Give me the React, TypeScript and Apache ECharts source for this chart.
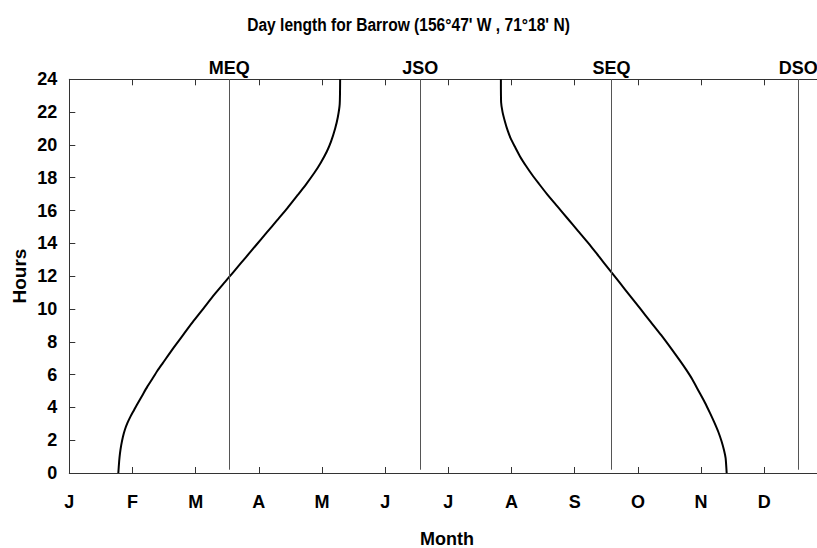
import React, { useEffect, useRef } from "react";
import * as echarts from "echarts";

// ---- data ----
const monthLabels = ["J", "F", "M", "A", "M", "J", "J", "A", "S", "O", "N", "D"];
const yearDays = 365;

// rising branch (end of polar night -> start of midnight sun)
const riseDays = [23.6, 24.0, 24.4, 25.0, 25.8, 26.8, 28.0, 29.5, 31.0, 32.5, 35.0, 37.5, 40.0, 42.5, 45, 50, 55, 60, 65, 70, 75, 77, 80, 85, 90, 95, 100, 105, 110, 114, 118, 121, 124, 126, 128, 129.3, 130.2, 130.4];
const riseHours = [0, 0.7, 1.2, 1.7, 2.2, 2.65, 3.05, 3.45, 3.8, 4.15, 4.7, 5.25, 5.75, 6.25, 6.7, 7.6, 8.45, 9.3, 10.1, 10.9, 11.65, 11.95, 12.4, 13.15, 13.9, 14.65, 15.4, 16.15, 16.95, 17.6, 18.3, 18.9, 19.6, 20.2, 21.0, 21.7, 22.5, 24];

// falling branch (end of midnight sun -> start of polar night)
const fallDays = [207.8, 207.9, 208.6, 209.8, 211.0, 212.5, 214.5, 217, 220, 223, 226, 230, 235, 240, 245, 250, 255, 260, 265, 270, 275, 280, 285, 290, 294, 297, 300, 303, 306, 308.5, 310.5, 312.5, 314, 315.2, 316.0, 316.5];
const fallHours = [24, 22.6, 22.0, 21.4, 20.9, 20.4, 19.9, 19.3, 18.7, 18.15, 17.65, 17.0, 16.25, 15.5, 14.75, 14.0, 13.2, 12.4, 11.6, 10.8, 10.0, 9.2, 8.4, 7.55, 6.85, 6.3, 5.7, 5.0, 4.3, 3.65, 3.1, 2.5, 1.95, 1.4, 0.9, 0];

const markerNames = ["MEQ", "JSO", "SEQ", "DSO"];
const markerDays = [77, 169, 261, 351];

const titleText = "Day length for Barrow (156°47' W , 71°18' N)";

const FONT = "'Liberation Sans', Arial, Helvetica, sans-serif";

export default function App() {
  const ref = useRef<HTMLDivElement>(null);

  useEffect(() => {
    if (!ref.current) return;
    const chart = echarts.init(ref.current, undefined, { renderer: "svg" });
    const step = yearDays / 12;
    const axisLineStyle = { color: "#333", width: 1 };

    const option: any = {
      animation: false,
      backgroundColor: "#fff",
      grid: { left: 69.3, top: 79.3, width: 758.1, height: 393.7 },
      xAxis: [
        {
          type: "value",
          position: "bottom",
          min: 0,
          max: yearDays,
          interval: step,
          axisLine: { show: true, lineStyle: axisLineStyle },
          axisTick: { show: true, inside: true, length: 6, lineStyle: axisLineStyle },
          axisLabel: {
            margin: 20,
            fontFamily: FONT,
            fontSize: 18,
            fontWeight: "bold",
            color: "#000",
            formatter: (v: number) => monthLabels[Math.round(v / step)] ?? "",
          },
          splitLine: { show: false },
        },
        {
          type: "value",
          position: "top",
          min: 0,
          max: yearDays,
          interval: step,
          axisLine: { show: true, lineStyle: axisLineStyle },
          axisTick: { show: true, inside: true, length: 6, lineStyle: axisLineStyle },
          axisLabel: { show: false },
          splitLine: { show: false },
        },
      ],
      yAxis: [
        {
          type: "value",
          min: 0,
          max: 24,
          interval: 2,
          axisLine: { show: true, lineStyle: axisLineStyle },
          axisTick: { show: true, inside: true, length: 6, lineStyle: axisLineStyle },
          axisLabel: { margin: 12, fontFamily: FONT, fontSize: 18, fontWeight: "bold", color: "#000" },
          splitLine: { show: false },
        },
      ],
      graphic: [
        {
          type: "text",
          x: 408.5,
          y: 24,
          scaleX: 0.82,
          style: { text: titleText, align: "center", verticalAlign: "middle", font: `bold 19px ${FONT}`, fill: "#000" },
        },
        {
          type: "text",
          x: 19.5,
          y: 276,
          rotation: Math.PI / 2,
          style: { text: "Hours", align: "center", verticalAlign: "middle", font: `bold 19px ${FONT}`, fill: "#000" },
        },
        {
          type: "text",
          x: 447,
          y: 539,
          style: { text: "Month", align: "center", verticalAlign: "middle", font: `bold 18px ${FONT}`, fill: "#000" },
        },
      ],
      series: [
        {
          type: "line",
          data: riseDays.map((d, i) => [d, riseHours[i]]),
          showSymbol: false,
          smooth: 0.2,
          lineStyle: { color: "#000", width: 2 },
          silent: true,
          markLine: {
            silent: true,
            symbol: "none",
            animation: false,
            lineStyle: { color: "#555", width: 1, type: "solid" },
            label: {
              show: true,
              position: "end",
              formatter: "{b}",
              distance: 2,
              fontFamily: FONT,
              fontSize: 18,
              fontWeight: "bold",
              color: "#000",
            },
            data: markerDays.map((d, i) => [
              { coord: [d, 0.2], name: markerNames[i] },
              { coord: [d, 24] },
            ]),
          },
        },
        {
          type: "line",
          data: fallDays.map((d, i) => [d, fallHours[i]]),
          showSymbol: false,
          smooth: 0.2,
          lineStyle: { color: "#000", width: 2 },
          silent: true,
        },
      ],
    };

    chart.setOption(option);
    return () => chart.dispose();
  }, []);

  return (
    <div style={{ position: "absolute", left: 0, top: 0, width: 817, height: 548, overflow: "hidden" }}>
      <div ref={ref} style={{ width: 840, height: 548 }} />
    </div>
  );
}
